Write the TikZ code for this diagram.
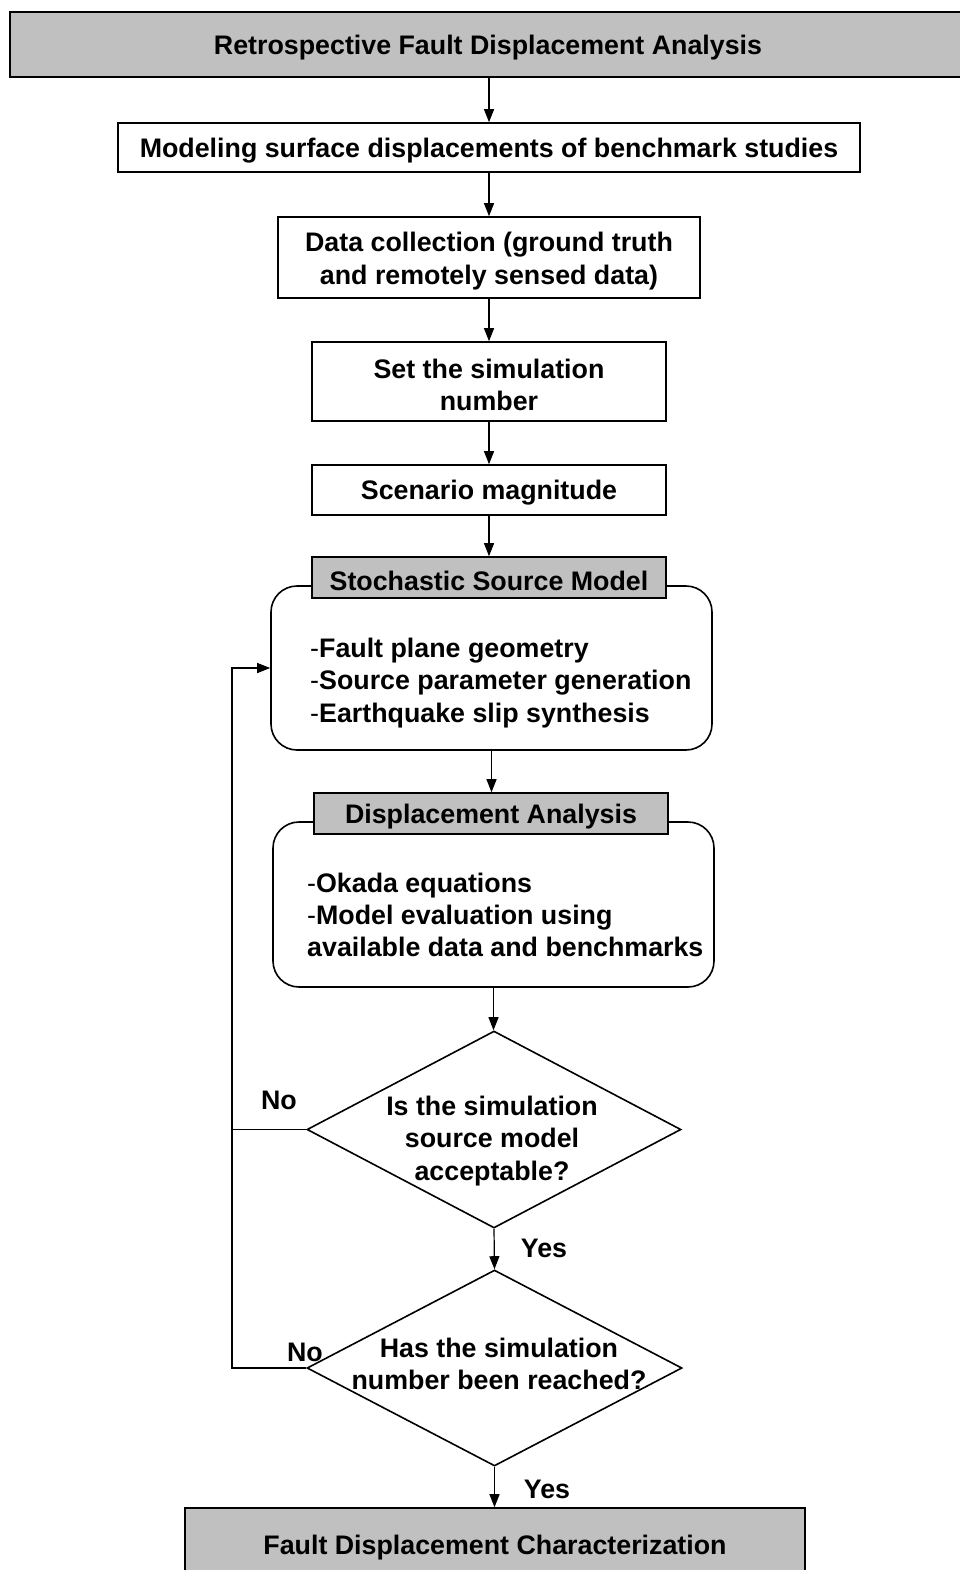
\documentclass[tikz,border=0pt]{standalone}
\usepackage{fontspec}
\setmainfont{Liberation Sans}
\usetikzlibrary{arrows.meta,shapes.geometric}
\definecolor{boxgray}{RGB}{192,192,192}
\begin{document}
\begin{tikzpicture}[x=1pt,y=-1pt,
  every node/.style={font=\bfseries\fontsize{26.8}{32.3}\selectfont},
  box/.style={draw, line width=1.6pt, rectangle, inner sep=0pt},
  graybox/.style={box, fill=boxgray},
  rbox/.style={draw, line width=1.6pt, rectangle, rounded corners=26pt, inner sep=0pt},
  dia/.style={draw, line width=1.6pt, diamond, inner sep=0pt},
  arr/.style={line width=1.2pt, -{Triangle[length=13pt,width=10pt]}},
  ln/.style={line width=1.2pt},
  txt/.style={align=center, inner sep=0pt},
  ltxt/.style={align=left, inner sep=0pt, anchor=west},
]
\useasboundingbox (0,0) rectangle (960,1570);

\node[graybox, minimum width=958, minimum height=65] (top) at (489,44.5) {};
\node[txt] (ttop) at (488,47.5) {Retrospective Fault Displacement Analysis};
\node[box, minimum width=742, minimum height=49] (b2) at (489,147.5) {};
\node[txt] (tb2) at (489,150.5) {Modeling surface displacements of benchmark studies};
\node[box, minimum width=422, minimum height=81] (b3) at (489,257.5) {};
\node[txt] (tb3) at (489,261) {Data collection (ground truth\\and remotely sensed data)};
\node[box, minimum width=354, minimum height=79] (b4) at (489,381.5) {};
\node[txt] (tb4) at (489,385) {Set the simulation\\number};
\node[box, minimum width=354, minimum height=50] (b5) at (489,490) {};
\node[txt] (tb5) at (489,493) {Scenario magnitude};

\node[rbox, minimum width=441, minimum height=164] (rb1) at (491.5,668) {};
\node[graybox, minimum width=354, minimum height=41] (h1) at (489,577.5) {};
\node[txt] (th1) at (489,580.5) {Stochastic Source Model};
\node[ltxt] (t1) at (310,683) {\textmd{-}Fault plane geometry\\\textmd{-}Source parameter generation\\\textmd{-}Earthquake slip synthesis};

\node[rbox, minimum width=441, minimum height=165] (rb2) at (493.5,904.5) {};
\node[graybox, minimum width=354, minimum height=41] (h2) at (491,813.5) {};
\node[txt] (th2) at (491,816.5) {Displacement Analysis};
\node[ltxt] (t2) at (307,915) {\textmd{-}Okada equations\\\textmd{-}Model evaluation using\\available data and benchmarks};

\node[dia, minimum width=374, minimum height=197] (d1) at (494,1129.5) {};
\node[txt] (q1) at (492,1141) {Is the simulation\\source model\\acceptable?};
\node[dia, minimum width=375, minimum height=196] (d2) at (494.5,1368) {};
\node[txt] (q2) at (499,1364) {Has the simulation\\number been reached?};

\node[graybox, minimum width=620, minimum height=70] (bot) at (495,1543) {};
\node[txt] (tbot) at (495,1548) {Fault Displacement Characterization};

\node[txt] (no1) at (279,1100) {No};
\node[txt] (no2) at (305,1352) {No};
\node[txt] (yes1) at (544,1248) {Yes};
\node[txt] (yes2) at (547,1489) {Yes};

\coordinate (lx1) at (232,1129.5);
\coordinate (lx2) at (232,1368);

\draw[arr] (top.south -| b2.north) -- (b2.north);
\draw[arr] (b2.south) -- (b3.north);
\draw[arr] (b3.south) -- (b4.north);
\draw[arr] (b4.south) -- (b5.north);
\draw[arr] (b5.south) -- (h1.north);
\draw[arr] (rb1.south) -- (rb1.south |- h2.north);
\draw[arr] (rb2.south) -- (rb2.south |- d1.north);
\draw[arr] (d1.south) -- (d2.north);
\draw[arr] (d2.south) -- (d2.south |- bot.north);
\draw[ln] (d2.west) -- (lx2) -- (lx1);
\draw[arr] (d1.west) -- (lx1) |- (rb1.west);
\end{tikzpicture}
\end{document}
